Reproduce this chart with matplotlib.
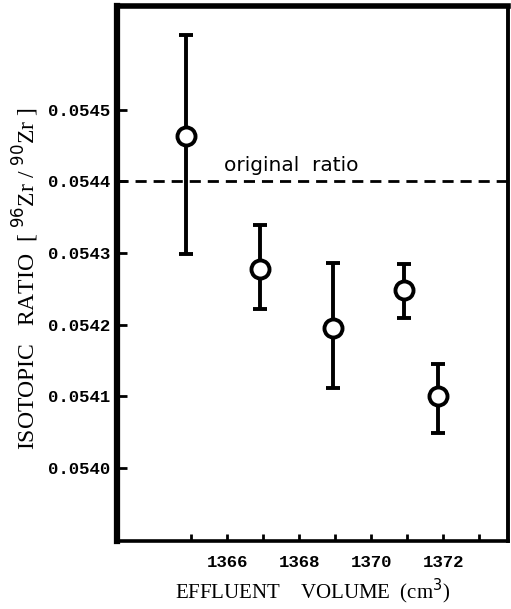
import matplotlib
matplotlib.use("Agg")
import matplotlib.pyplot as plt
from matplotlib.ticker import FixedLocator, FuncFormatter

# Effluent volume (cm^3) and measured 96Zr/90Zr isotopic ratios with uncertainties
volume = [1364.85, 1366.9, 1368.94, 1370.92, 1371.87]
ratio = [0.054463, 0.054278, 0.054195, 0.054248, 0.054100]
err_lo = [0.000164, 0.000056, 0.000084, 0.000039, 0.000051]
err_hi = [0.000141, 0.000061, 0.000091, 0.000037, 0.000045]
original_ratio = 0.0544

x_ticks = [1365, 1366, 1367, 1368, 1369, 1370, 1371, 1372, 1373]
x_labels = ["1366", "1368", "1370", "1372"]
y_ticks = [0.0540, 0.0541, 0.0542, 0.0543, 0.0544, 0.0545]

mono = "Liberation Mono"
serif = "Liberation Serif"

fig = plt.figure(figsize=(5.11, 6.09), dpi=100)
ax = fig.add_axes([0.229, 0.112, 0.765, 0.878])

ax.axhline(original_ratio, color="black", lw=2.0, ls=(0, (4, 2.5)), zorder=1)
ax.text(1365.9, original_ratio + 0.000015, "original  ratio", fontsize=14.5,
        family="DejaVu Sans", ha="left", va="baseline")

ax.errorbar(volume, ratio, yerr=[err_lo, err_hi], fmt="o", color="black",
            ms=13, mfc="white", mec="black", mew=2.8,
            elinewidth=2.8, capsize=5, capthick=2.6, zorder=3)

ax.set_xlim(1362.94, 1373.8)
ax.set_ylim(0.053898, 0.054645)

ax.xaxis.set_major_locator(FixedLocator(x_ticks))
ax.xaxis.set_major_formatter(FuncFormatter(
    lambda v, p: f"{int(round(v))}" if f"{int(round(v))}" in x_labels else ""))
ax.yaxis.set_major_locator(FixedLocator(y_ticks))
ax.yaxis.set_major_formatter(FuncFormatter(lambda v, p: f"{v:.4f}"))

ax.tick_params(axis="x", direction="in", length=5, width=2, pad=10,
               top=False, labelsize=12.5)
ax.tick_params(axis="y", direction="in", length=7, width=2, pad=5,
               right=False, labelsize=12.5)
for lab in ax.get_xticklabels() + ax.get_yticklabels():
    lab.set_family(mono)
    lab.set_fontweight("bold")

ax.spines["left"].set_linewidth(4.5)
ax.spines["top"].set_linewidth(4.0)
ax.spines["right"].set_linewidth(2.8)
ax.spines["bottom"].set_linewidth(2.6)

ax.set_ylabel(r"ISOTOPIC   RATIO  [ $^{96}$Zr / $^{90}$Zr ]", family=serif,
              fontsize=17)
ax.yaxis.set_label_coords(-0.195, 0.49)
ax.set_xlabel(r"EFFLUENT    VOLUME  (cm$^3$)", family=serif, fontsize=15,
              labelpad=5)

fig.savefig("out.png", dpi=100)
